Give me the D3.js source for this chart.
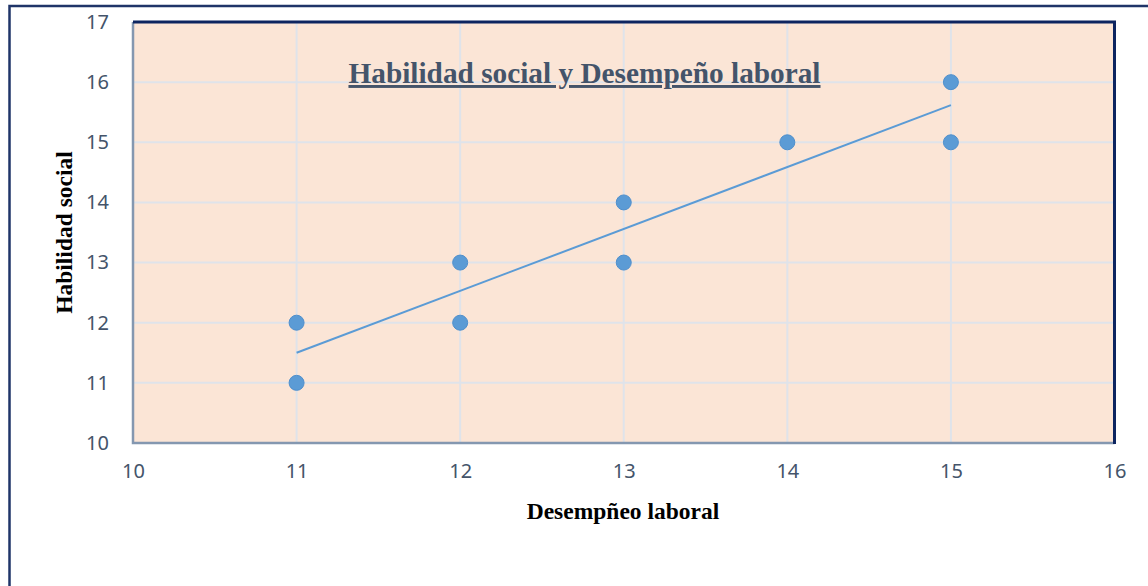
<!DOCTYPE html>
<html><head><meta charset="utf-8">
<script src="https://cdn.jsdelivr.net/npm/d3@7"></script>
<style>html,body{margin:0;padding:0;background:#fff;overflow:hidden}</style>
</head><body>
<svg id="c" width="1148" height="586"></svg>
<script>
const xValues = [11, 11, 12, 12, 13, 13, 14, 15, 15];
const yValues = [12, 11, 13, 12, 14, 13, 15, 16, 15];
const xTicks = [10, 11, 12, 13, 14, 15, 16];
const yTicks = [10, 11, 12, 13, 14, 15, 16, 17];
const title = "Habilidad social y Desempeño laboral";
const xTitle = "Desempñeo laboral";
const yTitle = "Habilidad social";

const svg = d3.select("#c");
const L = 133, R = 1114.5, T = 22, B = 443;
const x = d3.scaleLinear().domain([10, 16]).range([L, R]);
const y = d3.scaleLinear().domain([10, 17]).range([B, T]);

// outer frame
svg.append("rect").attr("x", 9.5).attr("y", 6).attr("width", 1300).attr("height", 800)
  .attr("fill", "#fff").attr("stroke", "#1f3468").attr("stroke-width", 2.5);

// plot background
svg.append("rect").attr("x", L).attr("y", T).attr("width", R - L).attr("height", B - T)
  .attr("fill", "#fbe5d6");

// gridlines
const grid = svg.append("g");
grid.selectAll(".gx").data(xTicks.filter(d => d > 10 && d < 16)).join("line")
  .attr("x1", d => x(d)).attr("x2", d => x(d)).attr("y1", T).attr("y2", B)
  .attr("stroke", "#dfe3ea").attr("stroke-width", 2);
grid.selectAll(".gy").data(yTicks.filter(d => d > 10 && d < 17)).join("line")
  .attr("x1", L).attr("x2", R).attr("y1", d => y(d)).attr("y2", d => y(d))
  .attr("stroke", "#dfe3ea").attr("stroke-width", 2);

// axes (labels only)
const xAxis = svg.append("g").attr("transform", `translate(0,${B})`)
  .call(d3.axisBottom(x).tickValues(xTicks).tickSize(0).tickPadding(21).tickFormat(d3.format("d")));
const yAxis = svg.append("g").attr("transform", `translate(${L},0)`)
  .call(d3.axisLeft(y).tickValues(yTicks).tickSize(0).tickPadding(24).tickFormat(d3.format("d")));
[xAxis, yAxis].forEach(a => {
  a.select(".domain").remove();
  a.selectAll("text").attr("font-family", "'Noto Sans', 'Open Sans', sans-serif")
    .attr("font-size", 20).attr("fill", "#44546a");
});

// plot borders
svg.append("path").attr("d", `M${L},${T}V${B}H${R}`).attr("fill", "none")
  .attr("stroke", "#8497b0").attr("stroke-width", 2.5);
svg.append("path").attr("d", `M${L},${T}H${R}V${B+1}`).attr("fill", "none")
  .attr("stroke", "#0d2560").attr("stroke-width", 3);

// linear trendline (least squares)
const n = xValues.length;
const mx = d3.mean(xValues), my = d3.mean(yValues);
let sxy = 0, sxx = 0;
for (let i = 0; i < n; i++) { sxy += (xValues[i] - mx) * (yValues[i] - my); sxx += (xValues[i] - mx) ** 2; }
const slope = sxy / sxx, icpt = my - slope * mx;
const [x0, x1] = d3.extent(xValues);
svg.append("line")
  .attr("x1", x(x0)).attr("y1", y(icpt + slope * x0))
  .attr("x2", x(x1)).attr("y2", y(icpt + slope * x1))
  .attr("stroke", "#5b9bd5").attr("stroke-width", 2);

// points
svg.append("g").selectAll("circle").data(xValues.map((v, i) => [v, yValues[i]])).join("circle")
  .attr("cx", d => x(d[0])).attr("cy", d => y(d[1])).attr("r", 7.5)
  .attr("fill", "#5b9bd5").attr("stroke", "#4f8fcc").attr("stroke-width", 1);

// title
svg.append("text").attr("x", 584.5).attr("y", 83).attr("text-anchor", "middle")
  .attr("font-family", "'Liberation Serif', 'Times New Roman', serif").attr("font-weight", "bold")
  .attr("font-size", 29.3).attr("fill", "#44546a").attr("text-decoration", "underline")
  .text(title);

// axis titles
svg.append("text").attr("x", 623).attr("y", 519).attr("text-anchor", "middle")
  .attr("font-family", "'Liberation Serif', 'Times New Roman', serif").attr("font-weight", "bold")
  .attr("font-size", 23.5).attr("fill", "#000").text(xTitle);
svg.append("text").attr("transform", "translate(72,232.5) rotate(-90)").attr("text-anchor", "middle")
  .attr("font-family", "'Liberation Serif', 'Times New Roman', serif").attr("font-weight", "bold")
  .attr("font-size", 23.5).attr("fill", "#000").text(yTitle);
</script>
</body></html>
